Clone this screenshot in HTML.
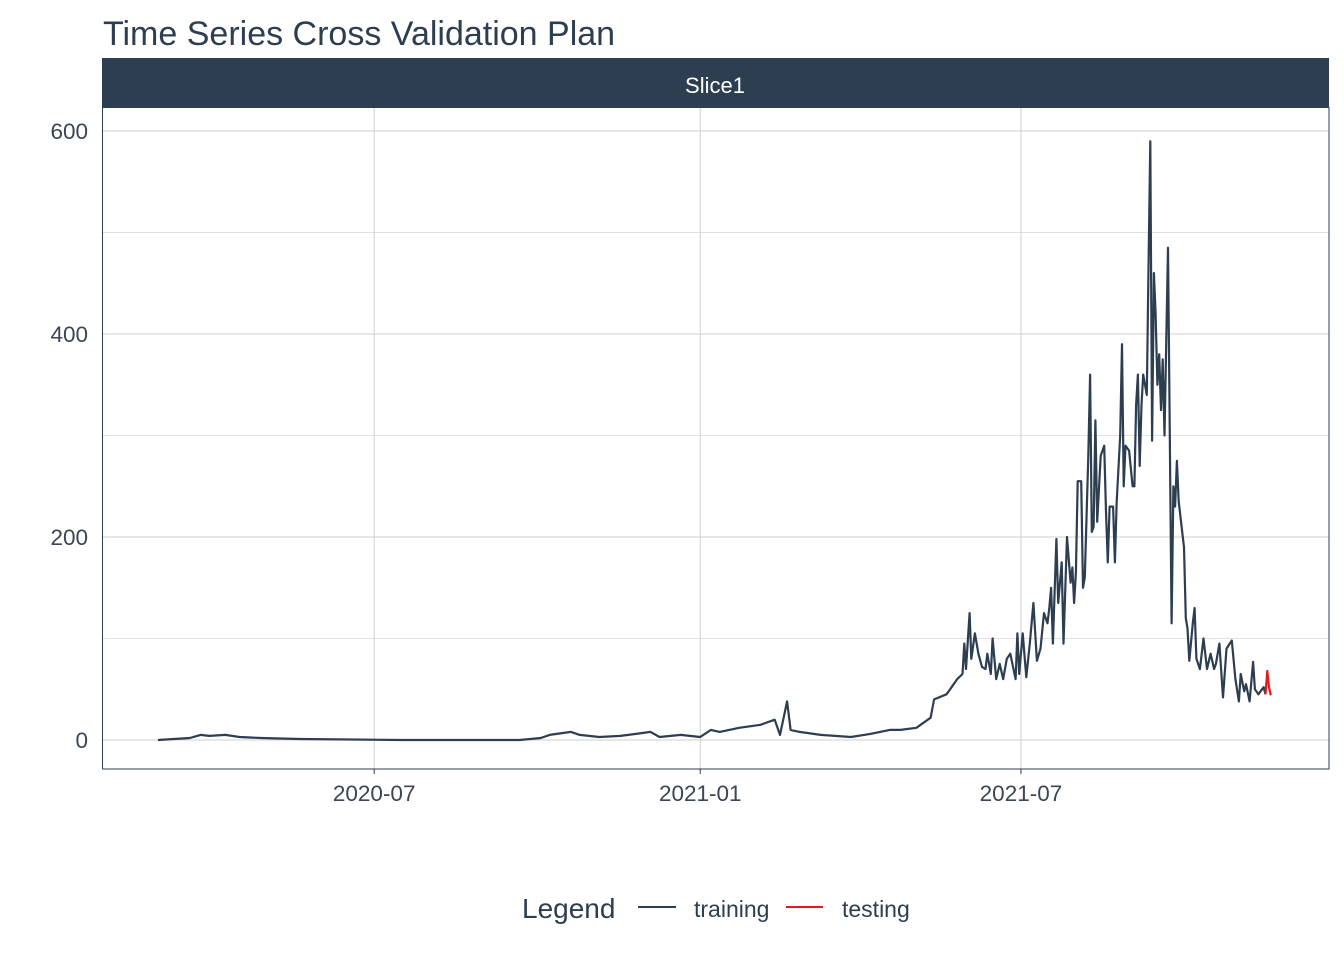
<!DOCTYPE html>
<html><head><meta charset="utf-8"><style>
body{margin:0;background:#fff;font-family:"Liberation Sans",sans-serif;}
svg{display:block}
</style></head><body>
<svg width="1344" height="960" viewBox="0 0 1344 960" id="chart">
<rect width="1344" height="960" fill="#fff"/>
<text x="103" y="45" font-size="34" fill="#2c3e50">Time Series Cross Validation Plan</text>
<rect x="102" y="58" width="1227" height="49" fill="#2c3e50"/>
<text x="715" y="93" font-size="22" fill="#fff" text-anchor="middle">Slice1</text>
<g id="grid"></g>
<g id="series"></g>
<rect x="102.5" y="107.5" width="1226.5" height="661.5" fill="none" stroke="#2c3e50" stroke-width="1"/>
<g id="axes"></g>
<g>
<text x="522" y="918" font-size="28" fill="#2c3e50">Legend</text>
<line x1="638" y1="907" x2="676" y2="907" stroke="#2c3e50" stroke-width="2"/>
<text x="694" y="917" font-size="23" fill="#2c3e50">training</text>
<line x1="786" y1="907" x2="823" y2="907" stroke="#e31a1c" stroke-width="2"/>
<text x="842" y="917" font-size="23" fill="#2c3e50">testing</text>
</g>
</svg>
<script>
// days since 2020-03-01
const trainDays = [0,18,24,29,38,46,58,80,137,204,216,221,233,238,249,261,278,283,295,306,312,317,328,340,348,351,355,357,362,374,391,402,413,
419,428,436,438,445,447,451,454,455,456,458,459,461,463,465,467,468,470,471,473,475,477,479,481,484,485,486,488,490,492,494,496,498,500,502,503,504,505,507,508,510,511,513,515,516,517,518,519,521,522,523,525,526,527,528,529,530,532,534,535,536,537,539,540,541,543,544,545,546,548,550,551,552,553,554,555,556,558,559,560,561,562,563,564,565,566,567,568,570,571,572,573,574,575,576,578,579,580,581,582,584,585,586,588,590,592,594,596,597,599,601,603,606,608,610,611,613,614,616,618,619,621,623,624,625];
const trainValues = [0,2,5,4,5,3,2,1,0,0,2,5,8,5,3,4,8,3,5,3,10,8,12,15,20,5,38,10,8,5,3,6,10,
10,12,22,40,45,50,60,65,95,70,125,80,105,85,72,70,85,65,100,60,75,60,80,85,60,105,65,105,62,95,135,78,90,125,115,130,150,95,198,135,175,95,200,155,170,135,165,255,255,150,160,280,360,205,210,315,215,280,290,225,175,230,230,175,235,300,390,250,290,285,250,250,330,360,270,330,360,340,465,590,295,460,420,350,380,325,375,300,485,300,115,250,230,275,235,205,190,120,110,78,115,130,80,70,100,70,85,70,75,95,42,90,98,60,38,65,48,55,38,77,50,45,50,52,45];
const testDays = [625,626,627,628];
const testValues = [45,68,52,44];
const yTicks = [0,200,400,600];
const yMinor = [100,300,500];
const xTickLabels = ["2020-07","2021-01","2021-07"];
const xTickDays = [122,306,487];

const NS="http://www.w3.org/2000/svg";
function xS(d){return 158 + d*1.772;}
function yS(v){return 740 - v*1.015;}
const grid=document.getElementById('grid'), axes=document.getElementById('axes'), series=document.getElementById('series');
function mk(tag,attrs,parent){const e=document.createElementNS(NS,tag);for(const k in attrs)e.setAttribute(k,attrs[k]);parent.appendChild(e);return e;}
yMinor.forEach(v=>{const l=mk('line',{x1:102,x2:1329,y1:yS(v),y2:yS(v),stroke:'#d6d6d6','stroke-width':0.8},grid);

});
yTicks.forEach(v=>{const l=mk('line',{x1:102,x2:1329,y1:yS(v),y2:yS(v),stroke:'#cfcfcf','stroke-width':1},grid);


const t=mk('text',{x:88,y:yS(v)+8,'font-size':22.5,fill:'#3a4654','text-anchor':'end'},axes);t.textContent=v;

});
xTickDays.forEach((d,i)=>{const l=mk('line',{x1:xS(d),x2:xS(d),y1:107,y2:769,stroke:'#cfcfcf','stroke-width':1},grid);


const tk=mk('line',{x1:xS(d),x2:xS(d),y1:769,y2:774,stroke:'#2c3e50','stroke-width':1},axes);


const t=mk('text',{x:xS(d),y:801,'font-size':22.5,fill:'#3a4654','text-anchor':'middle'},axes);t.textContent=xTickLabels[i];

});
function path(days,vals,color,name){let d='';days.forEach((dd,i)=>{d+=(i?'L':'M')+xS(dd).toFixed(1)+','+yS(vals[i]).toFixed(1);});
const p=mk('path',{d:d,fill:'none',stroke:color,'stroke-width':2.2,'stroke-linejoin':'round'},series);

}
path(trainDays,trainValues,'#2c3e50','training-line');
path(testDays,testValues,'#e31a1c','testing-line');
</script>
</body></html>
